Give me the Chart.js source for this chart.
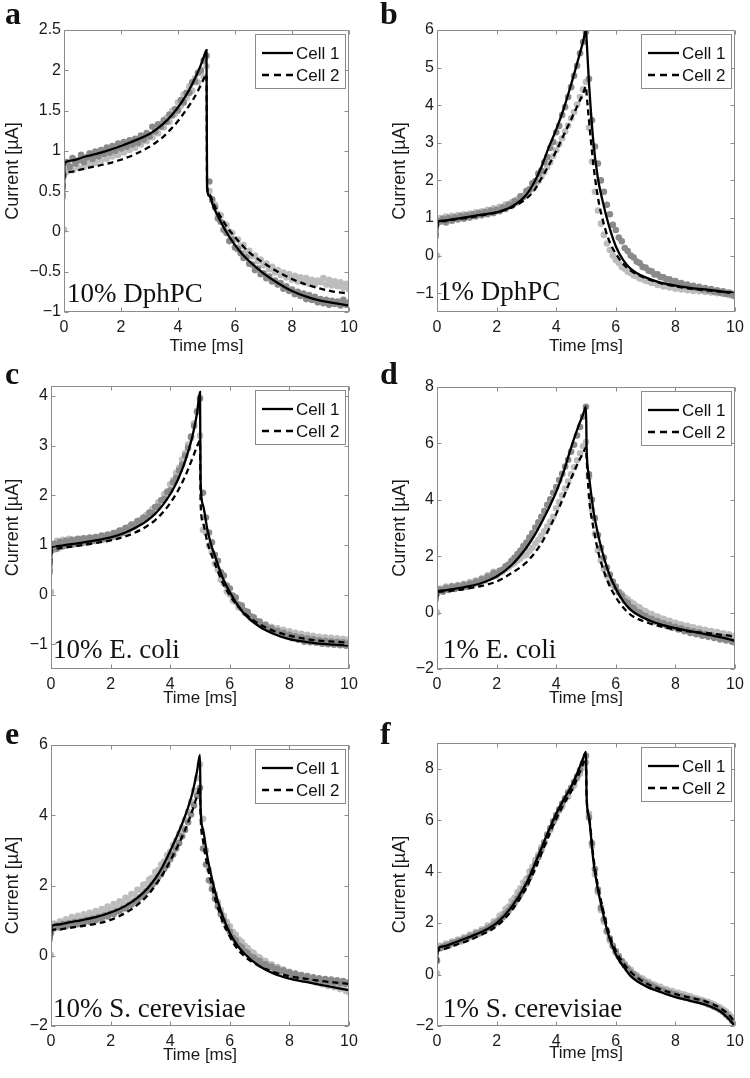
<!DOCTYPE html>
<html lang="en">
<head>
<meta charset="UTF-8">
<script src="https://cdn.jsdelivr.net/npm/chart.js"></script>
<title>Cell currents</title>
<style>
  body{margin:0;background:#fff;}
  #wrap{position:relative;width:750px;height:1078px;}
  canvas{position:absolute;}
</style>
<script>
// ---- data ----
const dotTime = [0,0.1,0.2,0.3,0.4,0.5,0.6,0.7,0.8,0.9,
  1,1.1,1.2,1.3,1.4,1.5,1.6,1.7,1.8,1.9,
  2,2.1,2.2,2.3,2.4,2.5,2.6,2.7,2.8,2.9,
  3,3.1,3.2,3.3,3.4,3.5,3.6,3.7,3.8,3.9,
  4,4.1,4.2,4.3,4.4,4.5,4.6,4.7,4.8,4.9,
  5,5.1,5.2,5.3,5.4,5.5,5.6,5.7,5.8,5.9,
  6,6.1,6.2,6.3,6.4,6.5,6.6,6.7,6.8,6.9,
  7,7.1,7.2,7.3,7.4,7.5,7.6,7.7,7.8,7.9,
  8,8.1,8.2,8.3,8.4,8.5,8.6,8.7,8.8,8.9,
  9,9.1,9.2,9.3,9.4,9.5,9.6,9.7,9.8,9.9,10];
const fitTime = [0,0.02,0.25,0.5,0.75,1,1.5,2,2.5,3,3.25,3.5,3.75,4,4.25,4.5,4.75,4.9,5,
  5.02,5.1,5.25,5.4,5.5,5.75,6,6.25,6.5,7,7.5,8,8.5,9,9.5,9.75,10];
const xTicks = [0,2,4,6,8,10];
const legendLabels = ['Cell 1','Cell 2'];
const panelLetters = ['a','b','c','d','e','f'];
const panelNames = ['10% DphPC','1% DphPC','10% E. coli','1% E. coli','10% S. cerevisiae','1% S. cerevisiae'];

// a - 10% DphPC
const aYRange = [-1,2.5];
const aYTicks = [-1,-0.5,0,0.5,1,1.5,2,2.5];
const aFit1 = [0.40,0.85,0.88,0.90,0.93,0.95,1.00,1.06,1.13,1.21,1.27,1.34,1.43,1.54,1.67,1.83,2.02,2.16,2.25,
  0.55,0.44,0.30,0.19,0.12,-0.04,-0.17,-0.28,-0.37,-0.52,-0.64,-0.74,-0.81,-0.86,-0.89,-0.905,-0.92];
const aFit2 = [0.40,0.72,0.74,0.76,0.78,0.80,0.84,0.89,0.96,1.05,1.11,1.18,1.27,1.37,1.49,1.62,1.78,1.89,1.95,
  0.55,0.46,0.34,0.24,0.18,0.04,-0.07,-0.17,-0.26,-0.39,-0.50,-0.59,-0.66,-0.71,-0.75,-0.76,-0.77];
const aDots1 = [0.70,0.86,0.80,0.91,0.84,0.88,0.95,0.86,0.92,0.97,
  0.90,0.99,0.93,1.01,0.96,1.04,0.98,1.06,1.00,1.09,
  1.03,1.11,1.05,1.13,1.08,1.15,1.10,1.19,1.14,1.22,
  1.18,1.30,1.24,1.33,1.30,1.38,1.36,1.45,1.44,1.52,
  1.50,1.63,1.60,1.72,1.72,1.85,1.86,1.97,2.00,2.12,
  2.18,0.62,0.40,0.30,0.16,0.12,0.02,-0.02,-0.12,-0.10,
  -0.20,-0.22,-0.27,-0.33,-0.32,-0.40,-0.41,-0.48,-0.46,-0.53,
  -0.52,-0.58,-0.56,-0.62,-0.61,-0.66,-0.64,-0.71,-0.68,-0.74,
  -0.72,-0.78,-0.75,-0.80,-0.77,-0.84,-0.79,-0.85,-0.81,-0.88,
  -0.84,-0.89,-0.85,-0.91,-0.86,-0.90,-0.87,-0.92,-0.85,-0.91,-0.88];
const aDots2 = [0.02,0.74,0.82,0.76,0.85,0.79,0.88,0.80,0.86,0.83,
  0.90,0.85,0.94,0.88,0.96,0.90,0.97,0.93,1.01,0.95,
  1.03,0.98,1.07,1.01,1.10,1.04,1.12,1.08,1.17,1.12,
  1.20,1.17,1.27,1.22,1.33,1.29,1.41,1.36,1.50,1.46,
  1.60,1.56,1.70,1.66,1.80,1.75,1.90,1.85,1.98,1.92,
  2.05,0.50,0.38,0.33,0.22,0.20,0.10,0.08,0.00,-0.02,
  -0.10,-0.10,-0.18,-0.17,-0.25,-0.24,-0.31,-0.30,-0.37,-0.35,
  -0.42,-0.40,-0.47,-0.44,-0.51,-0.48,-0.54,-0.51,-0.57,-0.53,
  -0.60,-0.55,-0.62,-0.57,-0.63,-0.58,-0.65,-0.60,-0.66,-0.61,
  -0.63,-0.58,-0.66,-0.60,-0.67,-0.62,-0.68,-0.63,-0.70,-0.65,-0.72];

// b - 1% DphPC
const bYRange = [-1.5,6];
const bYTicks = [-1,0,1,2,3,4,5,6];
const bFit1 = [0.45,0.90,0.93,0.96,0.99,1.02,1.09,1.15,1.30,1.62,1.93,2.35,2.88,3.35,3.90,4.55,5.25,5.68,6.00,
  5.75,4.60,3.00,2.05,1.65,0.85,0.25,-0.12,-0.35,-0.58,-0.72,-0.80,-0.86,-0.90,-0.95,-0.975,-1.00];
const bFit2 = [0.45,0.88,0.92,0.95,0.98,1.00,1.07,1.15,1.28,1.52,1.72,2.05,2.40,2.78,3.20,3.62,4.05,4.30,4.50,
  4.30,3.60,2.40,1.55,1.15,0.45,0.05,-0.22,-0.40,-0.60,-0.73,-0.82,-0.88,-0.92,-0.96,-0.98,-1.00];
const bDots1 = [0.85,0.90,0.98,0.88,1.00,0.93,1.02,0.96,1.05,0.98,
  1.07,1.01,1.10,1.04,1.13,1.07,1.16,1.10,1.20,1.13,
  1.22,1.18,1.28,1.24,1.36,1.32,1.45,1.42,1.58,1.56,
  1.72,1.76,1.92,1.98,2.18,2.26,2.48,2.62,2.86,3.02,
  3.28,3.45,3.74,3.95,4.22,4.48,4.78,5.05,5.38,5.68,
  5.95,4.70,3.60,2.90,2.45,2.00,1.70,1.35,1.10,0.82,
  0.68,0.48,0.38,0.20,0.12,0.00,-0.05,-0.16,-0.20,-0.30,
  -0.32,-0.40,-0.42,-0.50,-0.50,-0.57,-0.58,-0.64,-0.63,-0.70,
  -0.68,-0.75,-0.73,-0.79,-0.77,-0.83,-0.80,-0.86,-0.83,-0.90,
  -0.86,-0.93,-0.89,-0.96,-0.92,-0.99,-0.95,-1.02,-0.98,-1.05,-1.08];
const bDots2 = [0.00,1.00,0.92,1.04,0.96,1.06,0.99,1.08,1.01,1.10,
  1.03,1.12,1.06,1.15,1.09,1.18,1.12,1.22,1.16,1.26,
  1.20,1.30,1.25,1.36,1.32,1.42,1.40,1.50,1.52,1.60,
  1.62,1.72,1.78,1.90,1.98,2.10,2.22,2.36,2.48,2.65,
  2.80,2.96,3.12,3.30,3.46,3.65,3.82,4.02,4.22,4.42,
  4.62,3.40,2.50,1.70,1.20,0.85,0.55,0.32,0.15,0.00,
  -0.12,-0.20,-0.30,-0.35,-0.43,-0.46,-0.53,-0.55,-0.61,-0.62,
  -0.67,-0.68,-0.73,-0.73,-0.78,-0.77,-0.82,-0.80,-0.85,-0.83,
  -0.88,-0.85,-0.90,-0.87,-0.92,-0.89,-0.94,-0.90,-0.95,-0.91,
  -0.97,-0.93,-0.98,-0.94,-1.00,-0.96,-1.02,-0.98,-1.05,-1.00,-1.08];

// c - 10% E. coli
const cYRange = [-1.5,4.2];
const cYTicks = [-1,0,1,2,3,4];
const cFit1 = [0.40,0.95,0.98,1.00,1.02,1.04,1.09,1.15,1.25,1.40,1.50,1.63,1.80,2.02,2.30,2.68,3.20,3.65,4.08,
  2.30,1.80,1.30,0.95,0.78,0.35,0.05,-0.20,-0.40,-0.65,-0.80,-0.90,-0.95,-0.99,-1.01,-1.02,-1.03];
const cFit2 = [0.40,0.90,0.93,0.95,0.97,0.99,1.04,1.09,1.17,1.30,1.39,1.50,1.65,1.84,2.08,2.38,2.75,2.98,3.10,
  1.85,1.45,1.05,0.78,0.62,0.25,-0.02,-0.22,-0.38,-0.60,-0.74,-0.83,-0.89,-0.93,-0.95,-0.96,-0.97];
const cDots1 = [0.88,1.02,0.92,1.06,0.97,1.08,1.00,1.10,1.02,1.12,
  1.04,1.13,1.06,1.15,1.08,1.16,1.10,1.19,1.12,1.21,
  1.15,1.24,1.19,1.29,1.24,1.34,1.30,1.41,1.37,1.48,
  1.45,1.55,1.54,1.65,1.64,1.76,1.77,1.90,1.93,2.06,
  2.10,2.26,2.35,2.50,2.62,2.80,2.95,3.18,3.40,3.68,
  3.95,2.05,1.55,1.25,1.05,0.80,0.68,0.45,0.38,0.18,
  0.12,-0.02,-0.06,-0.20,-0.22,-0.33,-0.35,-0.44,-0.46,-0.54,
  -0.55,-0.62,-0.62,-0.69,-0.68,-0.75,-0.73,-0.80,-0.77,-0.84,
  -0.81,-0.88,-0.84,-0.91,-0.86,-0.95,-0.88,-0.96,-0.90,-0.97,
  -0.92,-0.99,-0.93,-1.00,-0.94,-1.01,-0.95,-1.02,-0.96,-1.03,-0.98];
const cDots2 = [0.05,0.90,1.08,0.95,1.10,0.98,1.12,1.00,1.10,1.02,
  1.12,1.04,1.12,1.06,1.14,1.08,1.16,1.10,1.18,1.12,
  1.20,1.16,1.25,1.21,1.30,1.27,1.36,1.34,1.42,1.42,
  1.50,1.52,1.60,1.63,1.72,1.76,1.86,1.90,2.02,2.08,
  2.22,2.30,2.45,2.55,2.72,2.85,3.02,3.15,3.45,3.70,
  3.20,1.30,1.25,0.98,0.85,0.62,0.50,0.30,0.22,0.06,
  0.00,-0.12,-0.15,-0.26,-0.28,-0.37,-0.38,-0.47,-0.47,-0.55,
  -0.54,-0.62,-0.60,-0.67,-0.65,-0.71,-0.68,-0.75,-0.71,-0.78,
  -0.74,-0.81,-0.77,-0.84,-0.79,-0.86,-0.81,-0.88,-0.83,-0.90,
  -0.85,-0.91,-0.86,-0.92,-0.87,-0.93,-0.88,-0.93,-0.89,-0.94,-0.90];

// d - 1% E. coli
const dYRange = [-2,8];
const dYTicks = [-2,0,2,4,6,8];
const dFit1 = [0.40,0.75,0.79,0.83,0.87,0.92,1.05,1.28,1.68,2.30,2.70,3.18,3.70,4.28,5.00,5.85,6.62,7.02,7.30,
  5.85,4.85,3.60,2.80,2.35,1.45,0.85,0.40,0.10,-0.22,-0.42,-0.55,-0.66,-0.76,-0.87,-0.93,-1.00];
const dFit2 = [0.40,0.72,0.75,0.78,0.81,0.85,0.95,1.10,1.40,1.78,2.08,2.45,2.95,3.50,4.10,4.75,5.35,5.65,5.85,
  5.50,4.10,3.00,2.20,1.80,1.05,0.55,0.18,-0.08,-0.33,-0.49,-0.60,-0.67,-0.72,-0.78,-0.81,-0.85];
const dDots1 = [0.68,0.82,0.74,0.88,0.80,0.92,0.84,0.95,0.88,0.99,
  0.92,1.03,0.98,1.10,1.05,1.18,1.15,1.28,1.26,1.40,
  1.36,1.48,1.52,1.64,1.70,1.84,1.94,2.08,2.20,2.36,
  2.48,2.66,2.82,3.02,3.20,3.40,3.60,3.82,4.02,4.25,
  4.45,4.70,4.92,5.18,5.42,5.70,5.95,6.28,6.58,6.95,
  7.30,4.90,4.00,3.35,2.75,2.30,1.95,1.60,1.35,1.10,
  0.92,0.72,0.60,0.42,0.35,0.20,0.15,0.03,0.00,-0.10,
  -0.12,-0.22,-0.22,-0.32,-0.30,-0.40,-0.38,-0.47,-0.44,-0.54,
  -0.50,-0.60,-0.56,-0.66,-0.62,-0.72,-0.66,-0.77,-0.70,-0.82,
  -0.76,-0.86,-0.80,-0.90,-0.84,-0.95,-0.88,-0.99,-0.92,-1.03,-1.06];
const dDots2 = [0.00,0.85,0.78,0.92,0.82,0.95,0.86,0.98,0.90,1.02,
  0.95,1.08,1.02,1.14,1.10,1.22,1.20,1.32,1.32,1.45,
  1.30,1.40,1.45,1.55,1.60,1.70,1.76,1.85,1.92,2.02,
  2.05,2.18,2.30,2.45,2.58,2.72,2.88,3.05,3.22,3.40,
  3.70,3.92,4.15,4.40,4.65,4.90,5.15,5.40,5.65,5.90,
  6.05,4.80,3.65,2.80,2.20,1.85,1.55,1.30,1.15,0.98,
  0.88,0.74,0.66,0.54,0.47,0.37,0.31,0.22,0.18,0.08,
  0.05,-0.03,-0.05,-0.13,-0.14,-0.21,-0.22,-0.29,-0.29,-0.36,
  -0.36,-0.42,-0.42,-0.48,-0.47,-0.53,-0.52,-0.58,-0.57,-0.63,
  -0.61,-0.67,-0.65,-0.72,-0.69,-0.76,-0.73,-0.80,-0.77,-0.84,-0.82];

// e - 10% S. cerevisiae
const eYRange = [-2,6];
const eYTicks = [-2,0,2,4,6];
const eFit1 = [0.40,0.85,0.89,0.93,0.97,1.01,1.10,1.23,1.42,1.72,1.93,2.20,2.55,2.98,3.45,3.98,4.65,5.25,5.72,
  4.20,3.60,2.80,2.20,1.85,1.15,0.65,0.30,0.05,-0.30,-0.52,-0.65,-0.74,-0.82,-0.90,-0.94,-0.98];
const eFit2 = [0.40,0.72,0.75,0.78,0.81,0.84,0.91,1.02,1.22,1.52,1.73,2.00,2.32,2.70,3.12,3.58,4.15,4.55,4.82,
  4.00,3.30,2.55,2.00,1.65,1.00,0.55,0.20,-0.02,-0.30,-0.47,-0.58,-0.65,-0.71,-0.76,-0.78,-0.80];
const eDots1 = [0.65,0.78,0.86,0.80,0.90,0.84,0.93,0.87,0.96,0.90,
  0.98,0.93,1.02,0.97,1.06,1.01,1.10,1.06,1.15,1.12,
  1.20,1.18,1.27,1.26,1.35,1.35,1.44,1.46,1.55,1.58,
  1.68,1.73,1.84,1.90,2.02,2.10,2.24,2.32,2.48,2.58,
  2.75,2.88,3.05,3.20,3.40,3.58,3.80,4.02,4.28,4.55,
  4.78,3.05,2.60,2.15,1.90,1.62,1.40,1.18,1.00,0.82,
  0.68,0.52,0.44,0.30,0.24,0.12,0.08,-0.02,-0.05,-0.14,
  -0.15,-0.24,-0.24,-0.32,-0.31,-0.39,-0.37,-0.45,-0.42,-0.50,
  -0.47,-0.55,-0.51,-0.59,-0.55,-0.63,-0.58,-0.66,-0.61,-0.69,
  -0.64,-0.72,-0.66,-0.74,-0.68,-0.76,-0.70,-0.78,-0.72,-0.80,-0.75];
const eDots2 = [0.02,0.92,0.84,0.98,0.90,1.04,0.96,1.10,1.02,1.14,
  1.06,1.18,1.10,1.22,1.15,1.27,1.20,1.33,1.26,1.40,
  1.34,1.47,1.42,1.55,1.52,1.65,1.62,1.76,1.74,1.88,
  1.88,2.02,2.04,2.18,2.22,2.38,2.44,2.60,2.68,2.86,
  2.96,3.15,3.28,3.48,3.65,3.88,4.10,4.38,4.70,5.05,
  5.45,3.90,3.00,2.45,2.05,1.75,1.52,1.30,1.14,0.96,
  0.84,0.68,0.60,0.46,0.40,0.28,0.22,0.12,0.08,-0.02,
  -0.05,-0.14,-0.15,-0.24,-0.24,-0.32,-0.32,-0.40,-0.39,-0.47,
  -0.46,-0.53,-0.52,-0.59,-0.58,-0.65,-0.64,-0.70,-0.69,-0.76,
  -0.74,-0.81,-0.79,-0.86,-0.83,-0.90,-0.88,-0.95,-0.92,-1.00,-1.04];

// f - 1% S. cerevisiae
const fYRange = [-2,9];
const fYTicks = [-2,0,2,4,6,8];
const fFit1 = [0.40,1.00,1.10,1.20,1.31,1.42,1.66,2.00,2.62,3.55,4.20,4.90,5.60,6.25,6.80,7.30,7.95,8.40,8.65,
  6.95,6.10,4.40,3.30,2.75,1.55,0.78,0.32,-0.06,-0.45,-0.68,-0.88,-1.02,-1.17,-1.43,-1.68,-2.00];
const fFit2 = [0.40,0.90,1.00,1.10,1.20,1.30,1.55,1.88,2.48,3.38,4.00,4.68,5.40,6.05,6.62,7.12,7.75,8.18,8.40,
  6.90,6.15,4.55,3.45,2.90,1.68,0.92,0.45,0.10,-0.33,-0.57,-0.76,-0.90,-1.04,-1.30,-1.52,-1.85];
const fDots1 = [0.55,1.02,1.08,1.12,1.15,1.22,1.24,1.30,1.33,1.38,
  1.41,1.48,1.50,1.58,1.60,1.68,1.72,1.80,1.86,1.94,
  2.02,2.12,2.22,2.36,2.48,2.62,2.78,2.95,3.12,3.32,
  3.52,3.78,4.02,4.30,4.56,4.84,5.12,5.42,5.68,5.96,
  6.20,6.42,6.65,6.85,7.08,7.25,7.48,7.70,7.95,8.22,
  8.50,6.10,5.10,4.10,3.30,2.60,2.15,1.70,1.40,1.12,
  0.90,0.70,0.52,0.36,0.22,0.10,0.00,-0.10,-0.18,-0.26,
  -0.32,-0.38,-0.44,-0.50,-0.54,-0.60,-0.63,-0.68,-0.71,-0.76,
  -0.78,-0.83,-0.85,-0.89,-0.91,-0.95,-0.97,-1.01,-1.03,-1.07,
  -1.10,-1.15,-1.19,-1.25,-1.30,-1.38,-1.45,-1.55,-1.66,-1.80,-1.92];
const fDots2 = [0.05,1.12,1.05,1.20,1.12,1.28,1.20,1.36,1.28,1.45,
  1.38,1.55,1.48,1.65,1.60,1.76,1.72,1.90,1.88,2.06,
  2.08,2.28,2.35,2.55,2.64,2.86,2.98,3.20,3.35,3.58,
  3.72,4.00,4.18,4.45,4.65,4.95,5.15,5.45,5.62,5.92,
  6.08,6.38,6.52,6.80,6.92,7.22,7.35,7.62,7.80,8.05,
  8.25,6.25,5.00,3.90,3.20,2.50,2.05,1.65,1.32,1.10,
  0.86,0.72,0.52,0.42,0.26,0.18,0.04,-0.02,-0.12,-0.16,
  -0.26,-0.28,-0.37,-0.40,-0.47,-0.48,-0.56,-0.57,-0.63,-0.64,
  -0.70,-0.71,-0.77,-0.78,-0.83,-0.85,-0.90,-0.92,-0.97,-0.99,
  -1.04,-1.07,-1.12,-1.17,-1.23,-1.28,-1.36,-1.44,-1.55,-1.66,-1.80];
</script>
</head>
<body>
<div id="wrap">
  <canvas id="pa" width="375" height="360" style="left:0;top:0"></canvas>
  <canvas id="pb" width="375" height="360" style="left:375px;top:0"></canvas>
  <canvas id="pc" width="375" height="360" style="left:0;top:360px"></canvas>
  <canvas id="pd" width="375" height="360" style="left:375px;top:360px"></canvas>
  <canvas id="pe" width="375" height="358" style="left:0;top:720px"></canvas>
  <canvas id="pf" width="375" height="358" style="left:375px;top:720px"></canvas>
</div>
<script>
const SANS = '"Liberation Sans", Arial, Helvetica, sans-serif';
const SERIF = '"Liberation Serif", "Times New Roman", serif';
Chart.defaults.font.family = SANS;

// plot box position inside each canvas (L/R/T/B), axis title centres (tx/ty), panel-name offset (nx/nb)
const boxes = [
  {id:'pa', w:375, h:360, L:64, R:349, T:30, B:312, tx:13, ty:346, nx:3, nb:10},
  {id:'pb', w:375, h:360, L:62, R:360, T:30, B:312, tx:25, ty:346, nx:1, nb:12},
  {id:'pc', w:375, h:360, L:51, R:349, T:26, B:309, tx:13, ty:338, nx:2, nb:11},
  {id:'pd', w:375, h:360, L:62, R:360, T:27, B:309, tx:25, ty:338, nx:6, nb:11},
  {id:'pe', w:375, h:358, L:51, R:349, T:25, B:306, tx:13, ty:335, nx:2, nb:9},
  {id:'pf', w:375, h:358, L:62, R:360, T:23, B:306, tx:25, ty:333, nx:6, nb:9}
];

function pairs(xs, ys){ return xs.map((x, i) => ({x: x, y: ys[i]})); }
function minus(v){ return String(v).replace('-', '\u2212'); }

const framePlugin = {
  id: 'frame',
  afterDatasetsDraw(chart, args, o){
    const ctx = chart.ctx, a = chart.chartArea, xs = chart.scales.x, ys = chart.scales.y;
    const l = Math.round(a.left) + 0.5, r = Math.round(a.right) - 0.5;
    const t = Math.round(a.top) + 0.5, b = Math.round(a.bottom) - 0.5;
    ctx.save();
    // axes box + inward ticks
    ctx.strokeStyle = '#8c8c8c';
    ctx.lineWidth = 1;
    ctx.strokeRect(l, t, r - l, b - t);
    ctx.beginPath();
    xs.ticks.forEach(tk => {
      const px = Math.round(xs.getPixelForValue(tk.value)) + 0.5;
      ctx.moveTo(px, b); ctx.lineTo(px, b - 4);
      ctx.moveTo(px, t); ctx.lineTo(px, t + 4);
    });
    ys.ticks.forEach(tk => {
      const py = Math.round(ys.getPixelForValue(tk.value)) + 0.5;
      ctx.moveTo(l, py); ctx.lineTo(l + 4, py);
      ctx.moveTo(r, py); ctx.lineTo(r - 4, py);
    });
    ctx.stroke();

    // sample name
    ctx.fillStyle = '#111';
    ctx.textAlign = 'left';
    ctx.textBaseline = 'alphabetic';
    ctx.font = '27px ' + SERIF;
    ctx.fillText(o.name, a.left + o.nx, a.bottom - o.nb);

    // legend
    const bw = 90, bh = 54;
    const bx = Math.round(a.right - 4 - bw), by = Math.round(a.top + 4);
    ctx.fillStyle = '#fff';
    ctx.fillRect(bx, by, bw, bh);
    ctx.strokeStyle = '#8c8c8c';
    ctx.strokeRect(bx + 0.5, by + 0.5, bw, bh);
    ctx.font = '17px ' + SANS;
    ctx.textBaseline = 'middle';
    legendLabels.forEach((lab, i) => {
      const yy = by + 19 + i * 22;
      ctx.strokeStyle = '#000';
      ctx.lineWidth = 2.3;
      ctx.setLineDash(i ? [7, 5] : []);
      ctx.beginPath(); ctx.moveTo(bx + 7, yy); ctx.lineTo(bx + 38, yy); ctx.stroke();
      ctx.setLineDash([]);
      ctx.fillStyle = '#111';
      ctx.fillText(lab, bx + 41, yy + 1);
    });

    // panel letter
    ctx.font = 'bold 32px ' + SERIF;
    ctx.textBaseline = 'alphabetic';
    ctx.fillText(o.letter, 5, 24);
    ctx.restore();
  }
};

function build(i, fit1, fit2, dots1, dots2, yRange, yTicks){
  const c = boxes[i];
  new Chart(document.getElementById(c.id), {
    type: 'scatter',
    data: {
      datasets: [
        {label: legendLabels[1] + ' data', data: pairs(dotTime, dots2), pointRadius: 3.3,
         pointBackgroundColor: '#bdbdbd', pointBorderWidth: 0, order: 4},
        {label: legendLabels[0] + ' data', data: pairs(dotTime, dots1), pointRadius: 3.3,
         pointBackgroundColor: '#8a8a8a', pointBorderWidth: 0, order: 3},
        {label: legendLabels[1], data: pairs(fitTime, fit2), showLine: true, borderColor: '#000',
         borderWidth: 2.3, borderDash: [6, 4], pointRadius: 0, cubicInterpolationMode: 'monotone', order: 2},
        {label: legendLabels[0], data: pairs(fitTime, fit1), showLine: true, borderColor: '#000',
         borderWidth: 2.3, pointRadius: 0, cubicInterpolationMode: 'monotone', order: 1}
      ]
    },
    options: {
      responsive: false,
      animation: false,
      devicePixelRatio: 1,
      layout: {padding: {top: c.T, right: c.w - c.R, left: 0, bottom: 0}},
      plugins: {
        legend: {display: false},
        tooltip: {enabled: false},
        frame: {letter: panelLetters[i], name: panelNames[i], nx: c.nx, nb: c.nb}
      },
      scales: {
        x: {
          type: 'linear', min: 0, max: 10,
          grid: {display: false, drawTicks: false, tickLength: 0},
          border: {display: false},
          afterBuildTicks: s => { s.ticks = xTicks.map(v => ({value: v})); },
          afterFit: s => { s.height = c.h - c.B; },
          ticks: {font: {size: 16}, color: '#1a1a1a', padding: 6, maxRotation: 0, autoSkip: false},
          title: {display: true, text: 'Time [ms]', font: {size: 17}, color: '#1a1a1a',
                  padding: {top: 0, bottom: c.h - c.ty - 10.2}}
        },
        y: {
          type: 'linear', min: yRange[0], max: yRange[1],
          grid: {display: false, drawTicks: false, tickLength: 0},
          border: {display: false},
          afterBuildTicks: s => { s.ticks = yTicks.map(v => ({value: v})); },
          afterFit: s => { s.width = c.L; },
          ticks: {font: {size: 16}, color: '#1a1a1a', padding: 3, autoSkip: false, callback: v => minus(v)},
          title: {display: true, text: 'Current [\u00b5A]', font: {size: 18}, color: '#1a1a1a',
                  padding: {top: c.tx - 10.8, bottom: 0}}
        }
      }
    },
    plugins: [framePlugin]
  });
}

build(0, aFit1, aFit2, aDots1, aDots2, aYRange, aYTicks);
build(1, bFit1, bFit2, bDots1, bDots2, bYRange, bYTicks);
build(2, cFit1, cFit2, cDots1, cDots2, cYRange, cYTicks);
build(3, dFit1, dFit2, dDots1, dDots2, dYRange, dYTicks);
build(4, eFit1, eFit2, eDots1, eDots2, eYRange, eYTicks);
build(5, fFit1, fFit2, fDots1, fDots2, fYRange, fYTicks);
</script>
</body>
</html>
